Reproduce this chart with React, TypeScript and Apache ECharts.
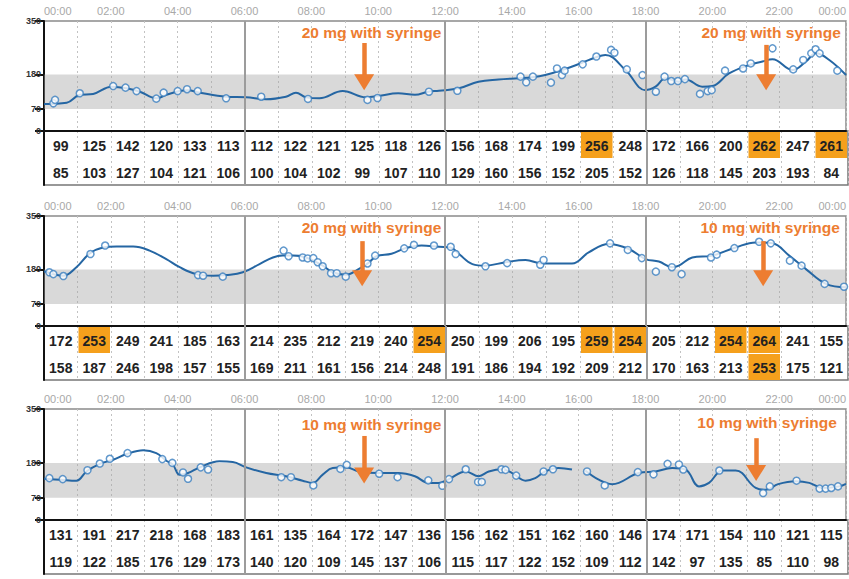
import React, { useEffect, useRef } from "react";
import * as echarts from "echarts";

// ---------- constants ----------
const Y_TICKS = [0, 70, 180, 350];
const TARGET_LOW = 70;
const TARGET_HIGH = 180;
const HIGHLIGHT_ABOVE = 250;
const SOLID_HOURS = [6, 12, 18];

// ---------- panel 1 ----------
const p1Line: [number, number][] = [
  [0, 86], [0.68, 90], [1.07, 115], [1.47, 118], [2.02, 141], [2.47, 136], [2.87, 125], [3.36, 104],
  [3.66, 115], [4.06, 127], [4.3, 130], [4.66, 122], [5.45, 109], [6.05, 107], [6.65, 101], [7.24, 109],
  [7.54, 122], [7.84, 107], [8.24, 104], [8.94, 127], [9.63, 107], [10.0, 111], [10.6, 120], [11.1, 115],
  [11.5, 125], [11.82, 128], [12.42, 136], [13.0, 157], [13.6, 164], [14.2, 168], [14.6, 171], [15.0, 178],
  [15.5, 194], [16.1, 217], [16.5, 234], [16.8, 242], [17.4, 194], [18.0, 130], [18.3, 141], [18.6, 168],
  [19.0, 157], [19.2, 164], [19.7, 141], [20.0, 143], [20.5, 183], [21.1, 210], [21.5, 221], [21.8, 228],
  [22.4, 194], [22.8, 221], [23.1, 247], [23.5, 226], [24, 178],
];
const p1Dots: [number, number][] = [
  [0.28, 88], [0.33, 99], [1.07, 120], [2.07, 143], [2.44, 138], [2.77, 127], [3.36, 103], [3.58, 122],
  [4.0, 127], [4.28, 133], [4.6, 127], [5.45, 104], [6.5, 109], [7.9, 102], [9.68, 99], [9.98, 105],
  [11.52, 125], [12.37, 128], [14.26, 173], [14.43, 155], [14.63, 173], [15.17, 154], [15.35, 199],
  [15.5, 178], [15.58, 192], [16.12, 212], [16.53, 237], [16.97, 258], [17.07, 249], [17.44, 196],
  [17.91, 178], [18.31, 125], [18.57, 173], [18.77, 159], [18.97, 159], [19.18, 165], [19.63, 118],
  [19.86, 127], [19.98, 130], [20.38, 192], [20.92, 199], [21.15, 215], [21.8, 263], [22.42, 196],
  [22.72, 226], [22.96, 247], [23.09, 260], [23.21, 247], [23.74, 192],
];
const p1High = [99, 125, 142, 120, 133, 113, 112, 122, 121, 125, 118, 126, 156, 168, 174, 199, 256, 248, 172, 166, 200, 262, 247, 261];
const p1Low = [85, 103, 127, 104, 121, 106, 100, 104, 102, 99, 107, 110, 129, 160, 156, 152, 205, 152, 126, 118, 145, 203, 193, 84];
const p1Notes = [
  { text: "20 mg with syringe", textAt: [9.8, 315], arrowHour: 9.58, arrowFrom: 280, arrowTo: 155 },
  { text: "20 mg with syringe", textAt: [21.76, 315], arrowHour: 21.61, arrowFrom: 274, arrowTo: 155 },
];

// ---------- panel 2 ----------
const p2Line: [number, number][] = [
  [0, 174], [0.28, 165], [0.58, 160], [0.97, 187], [1.37, 231], [1.77, 250], [2.17, 253], [2.67, 253],
  [3.16, 240], [3.66, 213], [4.06, 187], [4.56, 165], [5.06, 160], [5.45, 162], [5.95, 171], [6.45, 197],
  [6.85, 218], [7.14, 224], [7.44, 224], [7.84, 218], [8.34, 192], [8.64, 171], [9.03, 163], [9.4, 180],
  [9.7, 200], [9.95, 222], [10.4, 230], [10.83, 248], [11.3, 256], [11.82, 252], [12.17, 250], [12.42, 229],
  [12.82, 197], [13.21, 192], [13.81, 203], [14.41, 210], [14.9, 199], [15.8, 199], [16.3, 234], [16.9, 261],
  [17.5, 245], [18.0, 213], [18.4, 205], [18.8, 187], [19.0, 192], [19.4, 218], [20.0, 224], [20.7, 250],
  [21.3, 266], [21.8, 263], [22.3, 224], [22.8, 181], [23.4, 134], [24, 123],
];
const p2Dots: [number, number][] = [
  [0.16, 171], [0.28, 165], [0.58, 159], [1.39, 229], [1.83, 256], [4.61, 162], [4.76, 160], [5.35, 157],
  [7.17, 240], [7.32, 222], [7.74, 218], [7.89, 215], [8.06, 216], [8.19, 203], [8.34, 190], [8.59, 168],
  [8.76, 168], [9.03, 157], [9.68, 199], [9.91, 224], [10.78, 247], [11.07, 258], [11.67, 256], [12.17, 252],
  [12.32, 229], [13.21, 190], [13.86, 200], [14.85, 195], [14.95, 210], [16.94, 263], [17.47, 242],
  [17.89, 216], [18.31, 173], [18.79, 187], [19.08, 165], [19.96, 218], [20.13, 227], [20.66, 248],
  [21.4, 268], [21.75, 263], [22.32, 208], [22.67, 192], [23.36, 134], [23.94, 125],
];
const p2High = [172, 253, 249, 241, 185, 163, 214, 235, 212, 219, 240, 254, 250, 199, 206, 195, 259, 254, 205, 212, 254, 264, 241, 155];
const p2Low = [158, 187, 246, 198, 157, 155, 169, 211, 161, 156, 214, 248, 191, 186, 194, 192, 209, 212, 170, 163, 213, 253, 175, 121];
const p2Notes = [
  { text: "20 mg with syringe", textAt: [9.8, 315], arrowHour: 9.52, arrowFrom: 270, arrowTo: 152 },
  { text: "10 mg with syringe", textAt: [21.73, 315], arrowHour: 21.52, arrowFrom: 270, arrowTo: 152 },
];

// ---------- panel 3 ----------
const p3Line: [number, number | null][] = [
  [0, 130], [0.48, 127], [0.97, 124], [1.27, 153], [1.67, 177], [2.07, 190], [2.47, 208], [2.97, 220],
  [3.36, 211], [3.66, 187], [3.86, 174], [4.06, 143], [4.31, 148], [4.66, 166], [5.25, 185], [5.65, 183],
  [6.05, 166], [6.65, 148], [7.24, 138], [7.74, 124], [8.04, 117], [8.34, 143], [8.64, 164], [9.03, 166],
  [9.43, 153], [10.0, 148], [10.6, 148], [11.1, 138], [11.5, 117], [11.82, 117], [12.12, 129], [12.62, 153],
  [13.01, 138], [13.31, 153], [13.71, 160], [14.01, 148], [14.41, 124], [14.7, 132], [15.0, 153], [15.4, 164],
  [15.8, 159], [16.0, null], [16.2, 156], [16.6, 127], [17.0, 113], [17.8, 148], [18.3, 153], [18.8, 164],
  [19.2, 159], [19.6, 106], [19.9, 117], [20.3, 156], [20.7, 156], [21.3, 101], [21.6, 95], [21.97, 113],
  [22.5, 122], [22.9, 117], [23.3, 101], [23.8, 106], [24, 114],
];
const p3Dots: [number, number][] = [
  [0.16, 132], [0.56, 129], [1.3, 157], [1.67, 178], [1.97, 193], [2.5, 211], [3.54, 192], [3.84, 180],
  [4.16, 150], [4.31, 130], [4.69, 166], [4.91, 159], [7.1, 135], [7.39, 135], [8.06, 109], [8.87, 161],
  [9.06, 174], [10.03, 146], [10.58, 135], [11.5, 125], [11.92, 108], [12.12, 129], [12.62, 160],
  [12.99, 120], [13.1, 120], [13.69, 160], [13.81, 158], [14.13, 140], [14.95, 153], [15.23, 160],
  [16.25, 153], [16.78, 109], [17.77, 151], [18.24, 144], [18.66, 177], [19.0, 175], [19.13, 159],
  [20.21, 156], [21.52, 85], [21.72, 106], [22.52, 124], [23.21, 99], [23.39, 99], [23.56, 101], [23.76, 106],
];
const p3High = [131, 191, 217, 218, 168, 183, 161, 135, 164, 172, 147, 136, 156, 162, 151, 162, 160, 146, 174, 171, 154, 110, 121, 115];
const p3Low = [119, 122, 185, 176, 129, 173, 140, 120, 109, 145, 137, 106, 115, 117, 122, 152, 109, 112, 142, 97, 135, 85, 110, 98];
const p3Notes = [
  { text: "10 mg with syringe", textAt: [9.8, 300], arrowHour: 9.58, arrowFrom: 265, arrowTo: 140 },
  { text: "10 mg with syringe", textAt: [21.64, 309], arrowHour: 21.31, arrowFrom: 258, arrowTo: 148 },
];

const panels = [
  { line: p1Line, dots: p1Dots, high: p1High, low: p1Low, notes: p1Notes },
  { line: p2Line, dots: p2Dots, high: p2High, low: p2Low, notes: p2Notes },
  { line: p3Line, dots: p3Dots, high: p3High, low: p3Low, notes: p3Notes },
];

// ---------- layout / style ----------
const LAYOUT = [
  { top: 21, h: 110 },
  { top: 216, h: 110 },
  { top: 409, h: 111 },
];
const LEFT = 44;
const WIDTH = 804;
const TABLE_H = 54;
const FONT = '"Liberation Sans", Arial, sans-serif';
const ORANGE = "#ed7d31";
const dashed = { show: true, lineStyle: { color: "#c2c2c2", type: [2, 3] as any, width: 1 } };

function buildOption() {
  const grid: any[] = [];
  const xAxis: any[] = [];
  const yAxis: any[] = [];
  const series: any[] = [];

  panels.forEach((p, i) => {
    const L = LAYOUT[i];
    const gPlot = grid.length;
    grid.push({ left: LEFT, top: L.top, width: WIDTH, height: L.h, show: true, borderColor: "#8a8a8a", borderWidth: 1.5 });
    const gTab = grid.length;
    grid.push({ left: LEFT, top: L.top + L.h, width: WIDTH, height: TABLE_H, show: true, borderColor: "#777", borderWidth: 1.5 });

    const xPlot = xAxis.length;
    xAxis.push({
      type: "value", gridIndex: gPlot, min: 0, max: 24, interval: 1, position: "bottom",
      axisLine: { show: true, onZero: false, lineStyle: { color: "#111", width: 2 } },
      axisTick: { show: false }, axisLabel: { show: false }, splitLine: dashed,
    });
    xAxis.push({
      type: "value", gridIndex: gPlot, min: 0, max: 24, interval: 2, position: "top",
      axisLine: { show: false }, axisTick: { show: false }, splitLine: { show: false },
      axisLabel: {
        show: true, color: "#a8a8a8", fontSize: 11, margin: 5, fontFamily: FONT,
        formatter: (v: number) => String(v % 24).padStart(2, "0") + ":00",
        alignMinLabel: "left", alignMaxLabel: "right",
      },
    });
    const xTab = xAxis.length;
    xAxis.push({
      type: "value", gridIndex: gTab, min: 0, max: 24, interval: 1,
      axisLine: { show: false }, axisTick: { show: false }, axisLabel: { show: false }, splitLine: dashed,
    });

    const yPlot = yAxis.length;
    yAxis.push({
      type: "value", gridIndex: gPlot, min: 0, max: 350,
      axisLine: { show: true, onZero: false, lineStyle: { color: "#111", width: 2 } },
      axisTick: { show: true, customValues: Y_TICKS, length: 9, lineStyle: { color: "#111", width: 2 } },
      axisLabel: { show: true, customValues: Y_TICKS, fontSize: 9, fontWeight: "bold", color: "#333", margin: 3, fontFamily: FONT },
      splitLine: { show: false },
    });
    const yTab = yAxis.length;
    yAxis.push({
      type: "value", gridIndex: gTab, min: 0, max: 2, inverse: true,
      axisLine: { show: true, onZero: false, lineStyle: { color: "#111", width: 2 } },
      axisTick: { show: false }, axisLabel: { show: false }, splitLine: { show: false },
    });

    const solidLines = {
      silent: true, symbol: "none", label: { show: false },
      lineStyle: { color: "#9c9c9c", width: 2, type: "solid" },
      data: SOLID_HOURS.map((h) => ({ xAxis: h })),
    };

    series.push({
      type: "line", xAxisIndex: xPlot, yAxisIndex: yPlot, data: p.line, smooth: 0.4,
      showSymbol: false, symbol: "none", connectNulls: false, z: 3,
      lineStyle: { color: "#2566a3", width: 2 },
      markArea: { silent: true, itemStyle: { color: "rgba(165,165,165,0.42)" }, data: [[{ yAxis: TARGET_LOW }, { yAxis: TARGET_HIGH }]] },
      markLine: solidLines,
    });

    series.push({
      type: "scatter", xAxisIndex: xPlot, yAxisIndex: yPlot, data: p.dots, symbol: "circle", symbolSize: 7, z: 4,
      itemStyle: { color: "#fff", borderColor: "#3b7fc0", borderWidth: 1.5 },
      markLine: {
        silent: true, symbol: ["none", "triangle"], symbolSize: [20, 16], label: { show: false },
        lineStyle: { color: ORANGE, width: 4.5, type: "solid" },
        data: p.notes.map((n) => [{ coord: [n.arrowHour, n.arrowFrom] }, { coord: [n.arrowHour, n.arrowTo] }]),
      },
      markPoint: {
        silent: true, symbol: "rect", symbolSize: 1, itemStyle: { color: "transparent" },
        label: { show: true, position: "inside", color: ORANGE, fontSize: 15.5, fontWeight: "bold", fontFamily: FONT },
        data: p.notes.map((n) => ({ coord: n.textAt, label: { formatter: n.text } })),
      },
    });

    const cells: number[][] = [
      ...p.high.map((v, c) => [c, 0, v]),
      ...p.low.map((v, c) => [c, 1, v]),
    ];
    series.push({
      type: "custom", xAxisIndex: xTab, yAxisIndex: yTab, data: cells, encode: { x: 0, y: 1 }, z: 3, silent: true,
      renderItem: (_params: any, api: any) => {
        const col = api.value(0), row = api.value(1), val = api.value(2);
        const a = api.coord([col, row]);
        const b = api.coord([col + 1, row + 1]);
        const children: any[] = [];
        if (val > HIGHLIGHT_ABOVE) {
          children.push({ type: "rect", shape: { x: a[0] + 1, y: a[1] + 1, width: b[0] - a[0] - 2, height: b[1] - a[1] - 1 }, style: { fill: "#f5a01c" } });
        }
        children.push({
          type: "text",
          style: { text: String(val), x: (a[0] + b[0]) / 2, y: (a[1] + b[1]) / 2 + 1, align: "center", verticalAlign: "middle", font: `bold 14px ${FONT}`, fill: "#222" },
        });
        return { type: "group", children };
      },
      markLine: solidLines,
    });
  });

  return { animation: false, backgroundColor: "#fff", grid, xAxis, yAxis, series };
}

export default function App() {
  const ref = useRef<HTMLDivElement>(null);
  useEffect(() => {
    const chart = echarts.init(ref.current!, null, { renderer: "svg" });
    chart.setOption(buildOption() as any);
    return () => chart.dispose();
  }, []);
  return <div ref={ref} style={{ position: "absolute", left: 0, top: 0, width: 849, height: 579 }} />;
}
